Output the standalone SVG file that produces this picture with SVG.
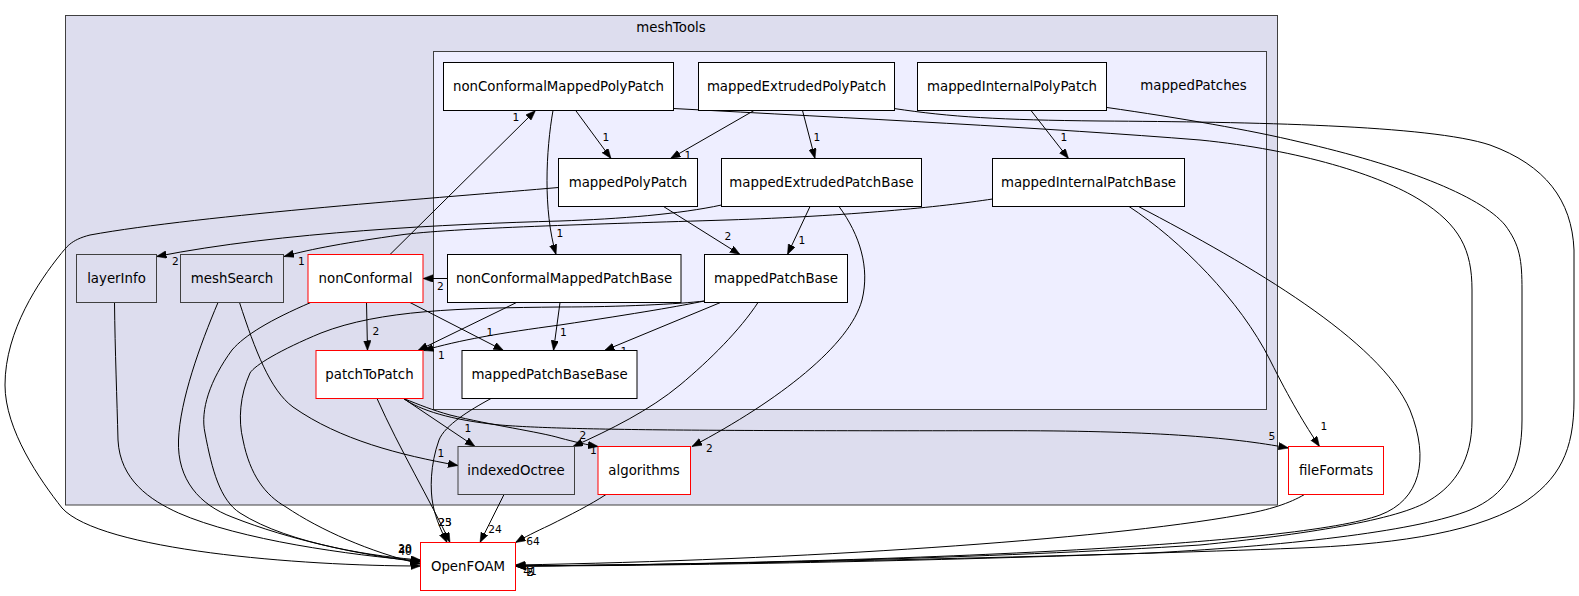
<svg xmlns="http://www.w3.org/2000/svg" width="1579" height="596" viewBox="0 0 1579 596">
<style>
text{font-family:"DejaVu Sans","Liberation Sans",sans-serif;fill:#000}
.n text{font-size:13.33px;text-anchor:middle}
.n rect{fill:#fff;stroke:#000;stroke-width:1}
.n.red rect{stroke:#ff0000}
.n.gray rect{fill:#ddddee;stroke:#404040}
.cl{stroke:#404040;stroke-width:1}
.e path{fill:none;stroke:#000;stroke-width:1;marker-end:url(#ah)}
.e text{font-size:10.67px;text-anchor:middle}
.ct{font-size:13.33px;text-anchor:middle}
</style>
<defs>
<marker id="ah" markerUnits="userSpaceOnUse" markerWidth="11" markerHeight="8" refX="10" refY="3.75" orient="auto">
<path d="M0,0 L10,3.75 L0,7.5 z" fill="#000" stroke="#000" stroke-width="0.5"/>
</marker>
</defs>
<rect width="1579" height="596" fill="#fff"/>
<g id="clust_meshTools">
<rect class="cl" x="65.5" y="15.5" width="1212" height="489.5" fill="#ddddee"/>
<text class="ct" x="671" y="31.5">meshTools</text>
</g>
<g id="clust_mappedPatches">
<rect class="cl" x="433.5" y="51.5" width="833" height="358" fill="#eeeeff"/>
<text class="ct" x="1193.5" y="90">mappedPatches</text>
</g>

<g id="connectors" class="e">
<path d="M575.7,110.5 L611,158.5"/><text x="606" y="141">1</text>
<path d="M553,110.5 C546,150 543,210 556,254.5"/><text x="560" y="237">1</text>
<path d="M673.5,108.5 C850,118 1050,128 1200,140 C1300,150 1380,175 1420,200 C1460,225 1472,250 1472,290 L1472,420 C1472,460 1455,485 1430,500 C1400,520 1300,535 1200,545 C1000,558 700,565 515.5,566"/>
<path d="M754,110.5 L670.5,158.5"/><text x="688" y="159">1</text>
<path d="M802.5,110.5 L815,158.5"/><text x="817" y="141">1</text>
<path d="M894,108.5 C950,117 1000,120 1100,121 C1250,122 1430,125 1490,145 C1545,165 1572,200 1574,250 L1574,400 C1574,450 1560,480 1520,505 C1470,535 1380,545 1300,548 C1100,556 700,565 515.5,566"/>
<path d="M1031,110.5 L1068.5,158.5"/><text x="1064" y="141">1</text>
<path d="M1107,107.5 C1180,118 1250,130 1300,142 C1400,165 1480,195 1505,225 C1520,245 1522,260 1522,290 L1522,420 C1522,470 1505,495 1470,510 C1420,530 1300,545 1150,553 C900,562 650,566 515.5,566"/>
<path d="M663.5,206.5 L740,254.5"/><text x="728" y="240">2</text>
<path d="M558.5,187.5 C450,197 200,215 90,235 C70,240 66,248 60,255 C40,280 5,330 5,385 C5,430 40,480 62,508 C100,550 300,566 420.5,566"/>
<path d="M810,206.5 L787.5,254.5"/><text x="802" y="244">1</text>
<path d="M721.5,205 C680,214 620,219 560,221 C450,224 280,232 156.5,256.5"/><text x="175.5" y="264.5">2</text>
<path d="M839,206.5 C860,235 870,268 862,300 C850,345 780,400 692,446.5"/><text x="709.5" y="451.5">2</text>
<path d="M992.5,199 C940,207 850,216 727,220 C600,224 450,228 400,235 C350,242 310,249 284,256.5"/><text x="301.5" y="265">1</text>
<path d="M1129,206.5 C1180,240 1240,300 1270,360 C1290,400 1305,425 1319.5,446.5"/><text x="1324" y="429.5">1</text>
<path d="M1138.5,206.5 C1250,265 1380,340 1410,410 C1430,460 1420,500 1380,515 C1300,545 900,563 515.5,566"/>
<path d="M390,254.5 L535.5,110.5"/><text x="516" y="120.5">1</text>
<path d="M366.5,302.5 L367.5,350.5"/><text x="376" y="335">2</text>
<path d="M410,302.5 L503.5,350.5"/><text x="490" y="336">1</text>
<path d="M310.7,302.5 C270,320 245,335 232,350 C210,380 200,410 205,433 C212,470 220,500 240,513 C290,545 380,557 420.5,560"/>
<path d="M447.5,278.5 L423,278.5"/><text x="440.5" y="289.5">2</text>
<path d="M516.5,302.5 L418,350.5"/>
<path d="M560,302.5 L553.5,350.5"/><text x="563.5" y="336">1</text>
<path d="M704.5,301 C680,306 640,313 560,325 C500,333 460,340 423.5,350.5"/><text x="441.5" y="359">1</text>
<path d="M720.5,302.5 L604.5,350.5"/><text x="624" y="354.5">1</text>
<path d="M758,302.5 C740,330 710,360 680,385 C650,410 610,430 573,446.5"/><text x="583" y="439">2</text>
<path d="M704.5,301 C680,304 620,307 560,307 C460,308 380,310 321,333 C280,350 255,365 250,373 C240,395 238,420 243,440 C250,475 265,495 286,507 C320,530 370,552 420.5,564"/>
<path d="M403.5,398.5 L475,446.5"/><text x="468" y="432">1</text>
<path d="M403.5,398.5 C420,405 432,410 450,415 C490,425 540,432 560,438 C575,442 588,445 598,446.5"/><text x="593.5" y="454">1</text>
<path d="M403.5,398.5 C420,410 450,420 500,425 C560,430 700,431 1000,430.7 C1150,430.5 1230,437 1288.5,448"/><text x="1272" y="440">5</text>
<path d="M377,398.5 C400,450 430,500 450,542.5"/><text x="445" y="526">23</text>
<path d="M491,398.5 C470,410 445,425 439,440 C430,465 430,490 433,505 C436,520 442,532 447,542.5"/><text x="445" y="526">25</text>
<path d="M114.5,302.5 C115,350 117,400 118,440 C120,480 150,500 178.5,513 C240,540 350,555 420.5,561"/>
<path d="M218,302.5 C200,345 180,400 178.5,440 C177,480 200,505 232,517 C290,540 360,555 420.5,562"/>
<path d="M239.5,302.5 C255,350 270,390 293,407 C340,440 400,455 458,465.5"/><text x="441" y="456.5">1</text>
<path d="M504,494.5 L480,542.5"/><text x="495" y="533">24</text>
<path d="M606,494.5 C590,505 570,515 550,525 C535,532 525,537 515.5,542.5"/><text x="533" y="545">64</text>
<path d="M1304.5,494.5 C1290,503 1270,510 1240,515 C1100,540 800,560 515.5,565"/>
<text x="405" y="552">20</text><text x="405" y="553">30</text><text x="405" y="555">40</text>
<text x="530" y="575">41</text><text x="531" y="576">5</text><text x="530" y="576">2</text>
</g>

<g id="node_nonConformalMappedPolyPatch" class="n"><rect x="443.5" y="62.5" width="230" height="48"/><text x="558.5" y="91">nonConformalMappedPolyPatch</text></g>
<g id="node_mappedExtrudedPolyPatch" class="n"><rect x="698.5" y="62.5" width="196" height="48"/><text x="796.5" y="91">mappedExtrudedPolyPatch</text></g>
<g id="node_mappedInternalPolyPatch" class="n"><rect x="917.5" y="62.5" width="189" height="48"/><text x="1012" y="91">mappedInternalPolyPatch</text></g>
<g id="node_mappedPolyPatch" class="n"><rect x="558.5" y="158.5" width="139" height="48"/><text x="628" y="187">mappedPolyPatch</text></g>
<g id="node_mappedExtrudedPatchBase" class="n"><rect x="721.5" y="158.5" width="200" height="48"/><text x="821.5" y="187">mappedExtrudedPatchBase</text></g>
<g id="node_mappedInternalPatchBase" class="n"><rect x="992.5" y="158.5" width="192" height="48"/><text x="1088.5" y="187">mappedInternalPatchBase</text></g>
<g id="node_layerInfo" class="n gray"><rect x="76.5" y="254.5" width="80" height="48"/><text x="116.5" y="283">layerInfo</text></g>
<g id="node_meshSearch" class="n gray"><rect x="180.5" y="254.5" width="103" height="48"/><text x="232" y="283">meshSearch</text></g>
<g id="node_nonConformal" class="n red"><rect x="308" y="254.5" width="115" height="48"/><text x="365.5" y="283">nonConformal</text></g>
<g id="node_nonConformalMappedPatchBase" class="n"><rect x="447.5" y="254.5" width="233.5" height="48"/><text x="564" y="283">nonConformalMappedPatchBase</text></g>
<g id="node_mappedPatchBase" class="n"><rect x="704.5" y="254.5" width="143" height="48"/><text x="776" y="283">mappedPatchBase</text></g>
<g id="node_patchToPatch" class="n red"><rect x="316" y="350.5" width="107" height="48"/><text x="369.5" y="379">patchToPatch</text></g>
<g id="node_mappedPatchBaseBase" class="n"><rect x="462" y="350.5" width="175" height="48"/><text x="549.5" y="379">mappedPatchBaseBase</text></g>
<g id="node_indexedOctree" class="n gray"><rect x="458" y="446.5" width="116.5" height="48"/><text x="516" y="475">indexedOctree</text></g>
<g id="node_algorithms" class="n red"><rect x="598" y="446.5" width="92.5" height="48"/><text x="644" y="475">algorithms</text></g>
<g id="node_fileFormats" class="n red"><rect x="1288.5" y="446.5" width="95" height="48"/><text x="1336" y="475">fileFormats</text></g>
<g id="node_OpenFOAM" class="n red"><rect x="420.5" y="542.5" width="95" height="48"/><text x="468" y="571">OpenFOAM</text></g>
</svg>
